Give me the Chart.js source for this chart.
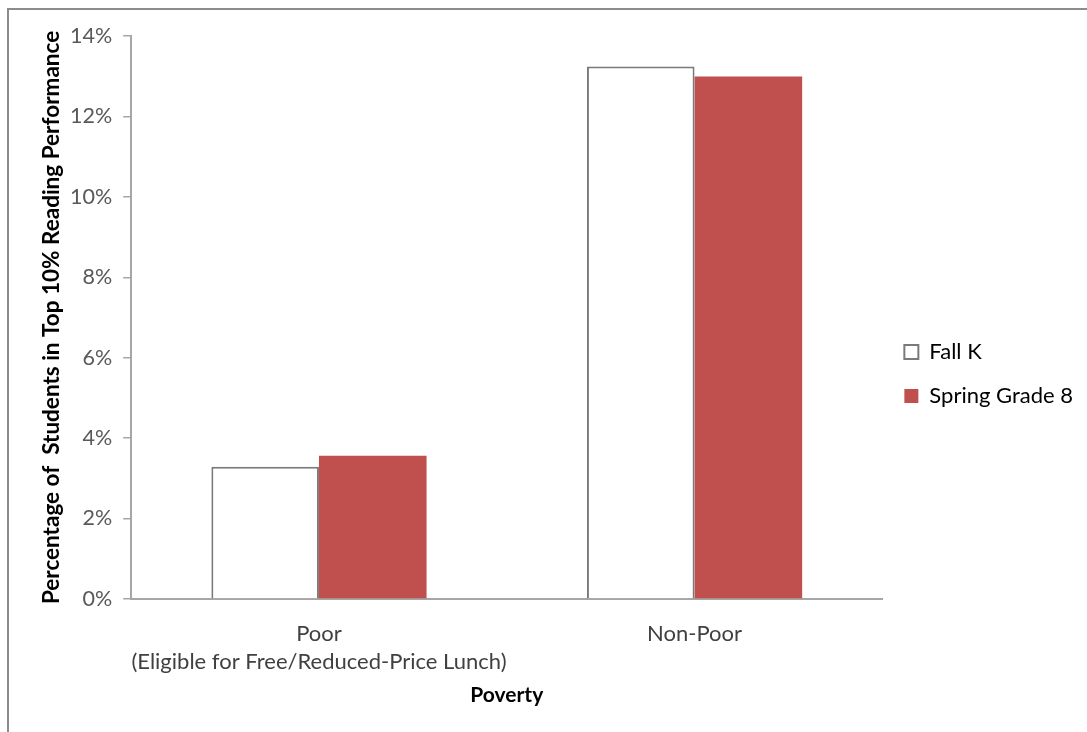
<!DOCTYPE html>
<html>
<head>
<meta charset="utf-8">
<script src="https://cdn.jsdelivr.net/npm/chart.js@4.4.1/dist/chart.umd.min.js"></script>
<style>
  html, body { margin: 0; padding: 0; background: #fff; }
  #frame { position: absolute; left: 7px; top: 8px; width: 1100px; height: 740px;
           border-top: 2px solid #8c8c8c; border-left: 2px solid #8c8c8c; }
  #wrap { position: absolute; left: 0; top: 0; width: 1087px; height: 732px; }
</style>
</head>
<body>
<div id="frame"></div>
<div id="wrap"><canvas id="grafico"></canvas></div>
<script>
const categorias = [['Poor', '(Eligible for Free/Reduced-Price Lunch)'], 'Non-Poor'];
const fallK = [3.29, 13.24];
const spring8 = [3.56, 12.99];
const ticksY = [0, 2, 4, 6, 8, 10, 12, 14];

const fonte = "Lato, sans-serif";
const cinzaEixo = '#a6a6a6';

new Chart(document.getElementById('grafico').getContext('2d'), {
  type: 'bar',
  data: {
    labels: categorias,
    datasets: [{
      label: 'Fall K',
      data: fallK,
      backgroundColor: '#ffffff',
      borderColor: '#7a7a7a',
      borderWidth: 2,
      borderSkipped: 'bottom'
    }, {
      label: 'Spring Grade 8',
      data: spring8,
      backgroundColor: '#c0504d',
      borderWidth: 0
    }]
  },
  options: {
    responsive: true,
    maintainAspectRatio: false,
    animation: false,
    datasets: { bar: { categoryPercentage: 0.573, barPercentage: 1 } },
    layout: { padding: { top: 36, left: 34, right: 4, bottom: 20 } },
    scales: {
      y: {
        min: 0, max: 14,
        afterBuildTicks: axis => { axis.ticks = ticksY.map(v => ({ value: v })); },
        ticks: { color: '#595959', font: { family: fonte, size: 21.5 }, padding: 11,
                 callback: v => v + '%' },
        grid: { drawOnChartArea: false, color: cinzaEixo, tickLength: 8, lineWidth: 1.5 },
        border: { color: cinzaEixo, width: 2 },
        title: { display: true, text: 'Percentage of  Students in Top 10% Reading Performance',
                 color: '#000', font: { family: fonte, size: 22.5, weight: 'bold' },
                 padding: { top: 4, bottom: -6 } }
      },
      x: {
        ticks: { color: '#404040', font: { family: fonte, size: 22, lineHeight: 1.27 }, padding: 13,
                 maxRotation: 0, minRotation: 0, autoSkip: false },
        grid: { display: false },
        border: { color: cinzaEixo, width: 2 },
        title: { display: true, text: 'Poverty', color: '#000',
                 font: { family: fonte, size: 21, weight: 'bold' }, padding: { top: -6, bottom: 4 } }
      }
    },
    plugins: {
      legend: {
        position: 'right',
        labels: { color: '#000', font: { family: fonte, size: 22 }, boxWidth: 14, boxHeight: 14,
                  padding: 22, useBorderRadius: false }
      },
      tooltip: { enabled: false }
    }
  }
});
</script>
</body>
</html>
